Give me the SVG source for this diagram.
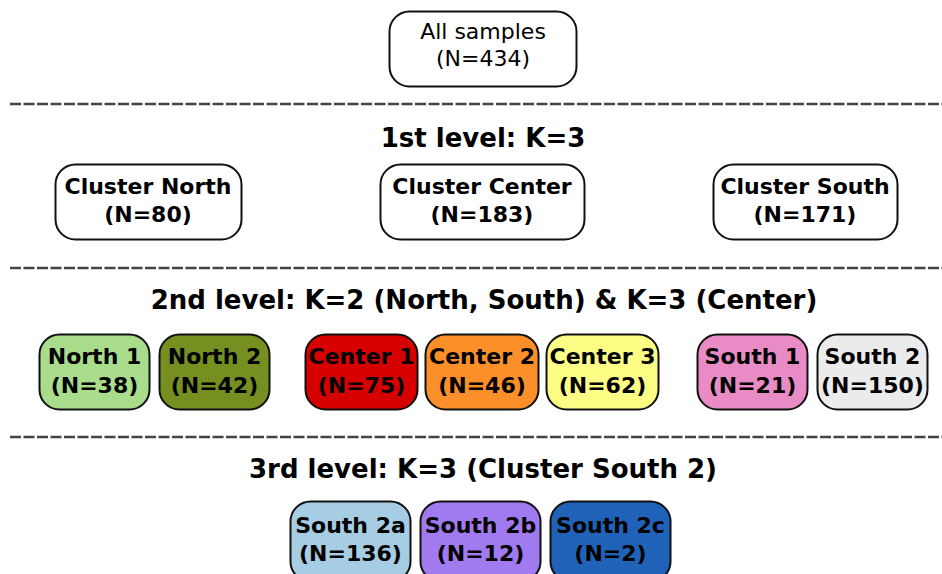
<svg xmlns="http://www.w3.org/2000/svg" width="942" height="574" viewBox="0 0 942 574">
  <style>
    .box { stroke: #111; stroke-width: 2; }
    .t { font-family: "DejaVu Sans", sans-serif; font-size: 22px; fill: #000; text-anchor: middle; }
    .b { font-weight: bold; }
    .h { font-family: "DejaVu Sans", sans-serif; font-size: 26px; font-weight: bold; fill: #000; text-anchor: middle; }
    .sep { stroke: #444; stroke-width: 2.5; stroke-dasharray: 11 2.5; fill: none; }
  </style>
  <rect width="942" height="574" fill="#fff"/>

  <!-- level separators -->
  <g id="separators">
    <line class="sep" x1="10" y1="104" x2="942" y2="104"/>
    <line class="sep" x1="10" y1="268" x2="942" y2="268"/>
    <line class="sep" x1="10" y1="437" x2="942" y2="437"/>
  </g>

  <!-- level headings -->
  <g id="headings">
    <text class="h" x="483" y="147">1st level: K=3</text>
    <text class="h" x="484" y="309">2nd level: K=2 (North, South) &amp; K=3 (Center)</text>
    <text class="h" x="483" y="478">3rd level: K=3 (Cluster South 2)</text>
  </g>

  <!-- root -->
  <g id="all-samples">
    <rect class="box" x="389.5" y="11.5" width="187" height="75" rx="20" fill="#fff"/>
    <text class="t" x="483" y="39">All samples</text>
    <text class="t" x="483" y="66">(N=434)</text>
  </g>

  <!-- first level -->
  <g id="cluster-north">
    <rect class="box" x="55.5" y="164.5" width="186" height="75" rx="20" fill="#fff"/>
    <text class="t b" x="148" y="194">Cluster North</text>
    <text class="t b" x="148" y="222">(N=80)</text>
  </g>
  <g id="cluster-center">
    <rect class="box" x="380.5" y="164.5" width="204" height="75" rx="20" fill="#fff"/>
    <text class="t b" x="482" y="194">Cluster Center</text>
    <text class="t b" x="482" y="222">(N=183)</text>
  </g>
  <g id="cluster-south">
    <rect class="box" x="713.5" y="164.5" width="184" height="75" rx="20" fill="#fff"/>
    <text class="t b" x="805" y="194">Cluster South</text>
    <text class="t b" x="805" y="222">(N=171)</text>
  </g>

  <!-- second level -->
  <g id="north-1">
    <rect class="box" x="39.5" y="334.5" width="110" height="75" rx="20" fill="#a9dd8c"/>
    <text class="t b" x="94.5" y="364">North 1</text>
    <text class="t b" x="94.5" y="393">(N=38)</text>
  </g>
  <g id="north-2">
    <rect class="box" x="159.5" y="334.5" width="110" height="75" rx="20" fill="#758f21"/>
    <text class="t b" x="214.5" y="364">North 2</text>
    <text class="t b" x="214.5" y="393">(N=42)</text>
  </g>
  <g id="center-1">
    <rect class="box" x="305.5" y="334.5" width="112" height="75" rx="20" fill="#d60000"/>
    <text class="t b" x="361.5" y="364">Center 1</text>
    <text class="t b" x="361.5" y="393">(N=75)</text>
  </g>
  <g id="center-2">
    <rect class="box" x="425.5" y="334.5" width="113" height="75" rx="20" fill="#fb8f2a"/>
    <text class="t b" x="482" y="364">Center 2</text>
    <text class="t b" x="482" y="393">(N=46)</text>
  </g>
  <g id="center-3">
    <rect class="box" x="546.5" y="334.5" width="112" height="75" rx="20" fill="#fdfd86"/>
    <text class="t b" x="602.5" y="364">Center 3</text>
    <text class="t b" x="602.5" y="393">(N=62)</text>
  </g>
  <g id="south-1">
    <rect class="box" x="697.5" y="334.5" width="110" height="75" rx="20" fill="#e98bc4"/>
    <text class="t b" x="752.5" y="364">South 1</text>
    <text class="t b" x="752.5" y="393">(N=21)</text>
  </g>
  <g id="south-2">
    <rect class="box" x="817.5" y="334.5" width="110" height="75" rx="20" fill="#ebebeb"/>
    <text class="t b" x="872.5" y="364">South 2</text>
    <text class="t b" x="872.5" y="393">(N=150)</text>
  </g>

  <!-- third level -->
  <g id="south-2a">
    <rect class="box" x="290.5" y="501.5" width="120" height="80" rx="20" fill="#a6cde3"/>
    <text class="t b" x="350.5" y="533">South 2a</text>
    <text class="t b" x="350.5" y="561">(N=136)</text>
  </g>
  <g id="south-2b">
    <rect class="box" x="420.5" y="501.5" width="120" height="80" rx="20" fill="#a27af0"/>
    <text class="t b" x="480.5" y="533">South 2b</text>
    <text class="t b" x="480.5" y="561">(N=12)</text>
  </g>
  <g id="south-2c">
    <rect class="box" x="550.5" y="501.5" width="120" height="80" rx="20" fill="#2062b8"/>
    <text class="t b" x="610.5" y="533">South 2c</text>
    <text class="t b" x="610.5" y="561">(N=2)</text>
  </g>

  <!-- connectors: none drawn between levels -->
  <g id="connectors"/>
</svg>
